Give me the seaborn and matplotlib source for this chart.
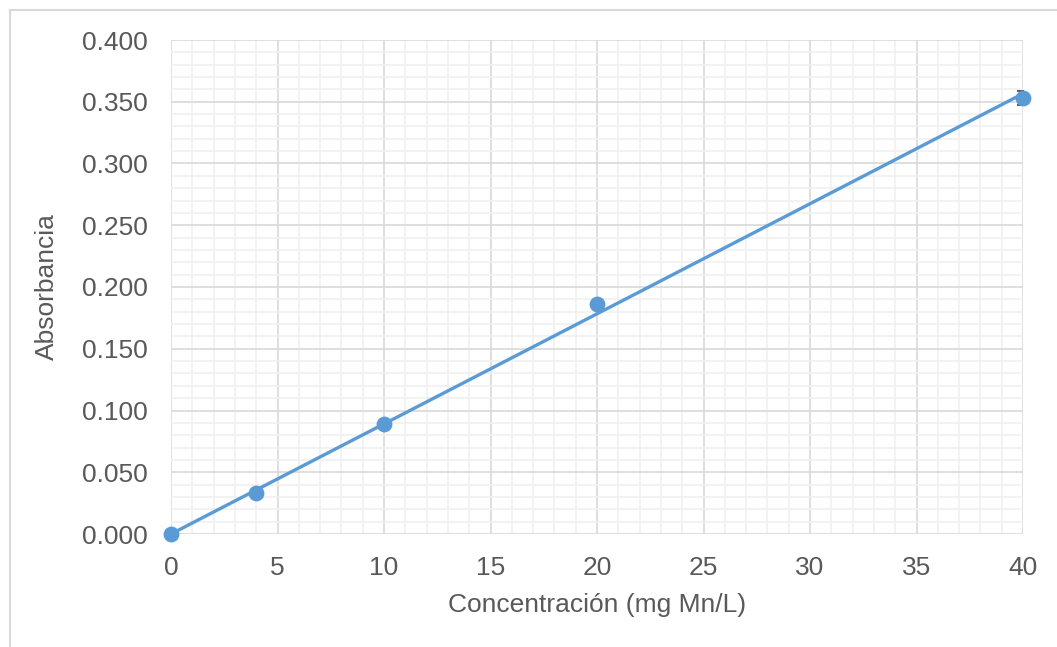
import matplotlib
matplotlib.use("Agg")
import matplotlib.pyplot as plt
from matplotlib.lines import Line2D
from matplotlib.ticker import MultipleLocator, FormatStrFormatter
import numpy as np
import pandas as pd
import seaborn as sns

# calibration data
concentracion = [0, 4, 10, 20, 40]
absorbancia = [0.000, 0.033, 0.089, 0.186, 0.353]
error_abs = [0.0, 0.0, 0.0, 0.0, 0.006]

x_label = "Concentración (mg Mn/L)"
y_label = "Absorbancia"

BLUE = "#5B9BD5"
TEXT = "#595959"

sns.set_theme(style="white")
plt.rcParams["font.family"] = ["Liberation Sans", "DejaVu Sans"]

df = pd.DataFrame({"x": concentracion, "y": absorbancia, "err": error_abs})

# linear trendline through the origin
slope = (df["x"] * df["y"]).sum() / (df["x"] ** 2).sum()
trend = pd.DataFrame({"x": [min(concentracion), max(concentracion)]})
trend["y"] = slope * trend["x"]

fig = plt.figure(figsize=(10.57, 6.47), dpi=100)
ax = fig.add_axes([171 / 1057, 1 - 534 / 647, (1023 - 171) / 1057, (534 - 40) / 647])

ax.errorbar(df["x"], df["y"], yerr=df["err"], fmt="none", ecolor="#404040",
            elinewidth=1.0, capsize=4, capthick=1.2, zorder=3)
sns.scatterplot(data=df, x="x", y="y", ax=ax, color=BLUE, s=130,
                edgecolor=BLUE, linewidth=0, zorder=4, clip_on=False)
sns.lineplot(data=trend, x="x", y="y", ax=ax, color=BLUE, linewidth=2.4,
             zorder=5, clip_on=False)

ax.set_xlim(0, 40)
ax.set_ylim(0, 0.4)
ax.xaxis.set_major_locator(MultipleLocator(5))
ax.xaxis.set_minor_locator(MultipleLocator(1))
ax.yaxis.set_major_locator(MultipleLocator(0.05))
ax.yaxis.set_minor_locator(MultipleLocator(0.01))
ax.yaxis.set_major_formatter(FormatStrFormatter("%.3f"))

ax.grid(which="major", color="#D9D9D9", linewidth=1.2)
ax.grid(which="minor", color="#F0F0F0", linewidth=1.2)
ax.set_axisbelow(True)
for s in ax.spines.values():
    s.set_visible(False)

ax.tick_params(which="both", length=0, labelsize=19, labelcolor=TEXT)
ax.tick_params(axis="x", pad=16)
ax.tick_params(axis="y", pad=17)
ax.set_xlabel(x_label, fontsize=19, color=TEXT, labelpad=9)
ax.set_ylabel(y_label, fontsize=19, color=TEXT, labelpad=16)

# outer chart frame (cropped at right and bottom)
fig.add_artist(Line2D([10 / 1057, 1.0], [1 - 10 / 647, 1 - 10 / 647],
                      transform=fig.transFigure, color="#D9D9D9", linewidth=1.5))
fig.add_artist(Line2D([10 / 1057, 10 / 1057], [0.0, 1 - 10 / 647],
                      transform=fig.transFigure, color="#D9D9D9", linewidth=1.5))

fig.savefig("out.png", dpi=100, facecolor="white")
